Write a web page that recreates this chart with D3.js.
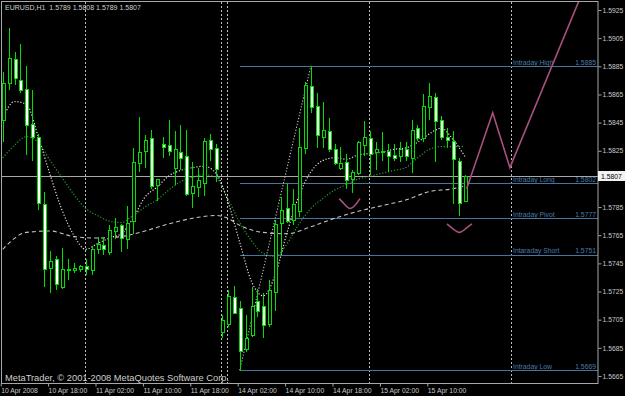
<!DOCTYPE html>
<html>
<head>
<meta charset="utf-8">
<script src="https://cdn.jsdelivr.net/npm/d3@7"></script>
<style>
body { margin: 0; background: #000; }
svg { display: block; }
text { font-family: "Liberation Sans", Arial, sans-serif; }
</style>
</head>
<body>
<script>
// EURUSD H1, bar 0 = 10 Apr 10:00 ... bar 78 = 15 Apr 16:00 (bars counted as on chart)
var opens = [1.5847, 1.5873, 1.5890, 1.5875, 1.5869, 1.5844, 1.5835, 1.5787, 1.5742, 1.5748,
	1.5728, 1.5740, 1.5740, 1.5741, 1.5743, 1.5740, 1.5755, 1.5758, 1.5753, 1.5768,
	1.5772, 1.5762, 1.5775, 1.5816, 1.5825, 1.5834, 1.5801, 1.5830, 1.5829, 1.5813,
	1.5824, 1.5821, 1.5795, 1.5799, 1.5802, 1.5833, 1.5827, 1.5696, 1.5702, 1.5721,
	1.5713, 1.5684, 1.5694, 1.5718, 1.5715, 1.5702, 1.5725, 1.5774, 1.5784, 1.5776,
	1.5782, 1.5827, 1.5871, 1.5857, 1.5835, 1.5839, 1.5826, 1.5813, 1.5817, 1.5805,
	1.5809, 1.5829, 1.5834, 1.5824, 1.5824, 1.5825, 1.5822, 1.5821, 1.5826, 1.5820,
	1.5841, 1.5834, 1.5856, 1.5863, 1.5847, 1.5835, 1.5832, 1.5818, 1.5789];
var highs = [1.5881, 1.5912, 1.5895, 1.5901, 1.5885, 1.5868, 1.5837, 1.5796, 1.5754, 1.5750,
	1.5756, 1.5748, 1.5745, 1.5744, 1.5748, 1.5757, 1.5764, 1.5764, 1.5772, 1.5777,
	1.5773, 1.5786, 1.5827, 1.5849, 1.5836, 1.5840, 1.5805, 1.5835, 1.5847, 1.5839,
	1.5843, 1.5840, 1.5817, 1.5813, 1.5834, 1.5837, 1.5830, 1.5708, 1.5726, 1.5729,
	1.5718, 1.5708, 1.5728, 1.5727, 1.5724, 1.5733, 1.5776, 1.5792, 1.5802, 1.5798,
	1.5841, 1.5874, 1.5885, 1.5866, 1.5860, 1.5848, 1.5830, 1.5828, 1.5823, 1.5811,
	1.5832, 1.5846, 1.5839, 1.5831, 1.5838, 1.5830, 1.5830, 1.5831, 1.5831, 1.5847,
	1.5843, 1.5865, 1.5873, 1.5866, 1.5850, 1.5841, 1.5839, 1.5820, 1.5808];
var lows = [1.5831, 1.5868, 1.5872, 1.5866, 1.5822, 1.5818, 1.5783, 1.5728, 1.5724, 1.5726,
	1.5727, 1.5733, 1.5738, 1.5739, 1.5737, 1.5737, 1.5752, 1.5751, 1.5751, 1.5762,
	1.5753, 1.5755, 1.5766, 1.5810, 1.5813, 1.5798, 1.5789, 1.5820, 1.5821, 1.5801,
	1.5811, 1.5793, 1.5784, 1.5792, 1.5793, 1.5818, 1.5803, 1.5692, 1.5700, 1.5710,
	1.5669, 1.5682, 1.5693, 1.5707, 1.5692, 1.5700, 1.5711, 1.5752, 1.5774, 1.5772,
	1.5778, 1.5823, 1.5852, 1.5827, 1.5827, 1.5824, 1.5815, 1.5811, 1.5798, 1.5795,
	1.5808, 1.5821, 1.5808, 1.5811, 1.5818, 1.5810, 1.5818, 1.5817, 1.5818, 1.5809,
	1.5832, 1.5831, 1.5847, 1.5817, 1.5833, 1.5827, 1.5787, 1.5779, 1.5789];
var closes = [1.5873, 1.5891, 1.5877, 1.5868, 1.5843, 1.5835, 1.5788, 1.5741, 1.5747, 1.5730,
	1.5741, 1.5741, 1.5742, 1.5743, 1.5741, 1.5755, 1.5759, 1.5755, 1.5769, 1.5771,
	1.5763, 1.5774, 1.5817, 1.5824, 1.5833, 1.5800, 1.5805, 1.5828, 1.5825, 1.5826,
	1.5820, 1.5794, 1.5800, 1.5804, 1.5832, 1.5826, 1.5812, 1.5705, 1.5722, 1.5710,
	1.5683, 1.5692, 1.5715, 1.5711, 1.5701, 1.5726, 1.5773, 1.5783, 1.5775, 1.5787,
	1.5828, 1.5872, 1.5856, 1.5836, 1.5840, 1.5826, 1.5816, 1.5816, 1.5804, 1.5810,
	1.5831, 1.5835, 1.5823, 1.5826, 1.5825, 1.5821, 1.5820, 1.5826, 1.5821, 1.5840,
	1.5834, 1.5857, 1.5864, 1.5846, 1.5835, 1.5833, 1.5819, 1.5788, 1.5807];

// moving averages at every other bar
var maBars = [0, 2, 4, 6, 8, 10, 12, 14, 16, 18, 20, 22, 24, 26, 28, 30, 32, 34, 36, 38,
	40, 42, 44, 46, 48, 50, 52, 54, 56, 58, 60, 62, 64, 66, 68, 70, 72, 74, 76, 78];
var maFast = [1.5848, 1.5860, 1.5858, 1.5835, 1.5808, 1.5783, 1.5765, 1.5755, 1.5759, 1.5763,
	1.5766, 1.5777, 1.5792, 1.5799, 1.5807, 1.5811, 1.5813, 1.5814, 1.5809, 1.5789,
	1.5760, 1.5732, 1.5722, 1.5737, 1.5767, 1.5793, 1.5810, 1.5818, 1.5820, 1.5819,
	1.5822, 1.5823, 1.5824, 1.5826, 1.5827, 1.5831, 1.5837, 1.5841, 1.5833, 1.5821];
var maMid = [1.5820, 1.5829, 1.5835, 1.5831, 1.5818, 1.5806, 1.5794, 1.5784, 1.5779, 1.5775,
	1.5774, 1.5779, 1.5785, 1.5790, 1.5797, 1.5803, 1.5806, 1.5808, 1.5806, 1.5791,
	1.5774, 1.5761, 1.5752, 1.5750, 1.5759, 1.5773, 1.5784, 1.5791, 1.5797, 1.5801,
	1.5805, 1.5807, 1.5809, 1.5811, 1.5813, 1.5820, 1.5826, 1.5828, 1.5828, 1.5828];
var maSlowBars = [0, 4, 8, 12, 16, 20, 24, 28, 32, 36, 38, 40, 44, 48, 52, 56, 60, 64, 68, 72, 76, 78];
var maSlow = [1.5755, 1.5767, 1.5768, 1.5764, 1.5763, 1.5764, 1.5768, 1.5773, 1.5777, 1.5779,
	1.5777, 1.5772, 1.5767, 1.5766, 1.5771, 1.5777, 1.5782, 1.5786, 1.5790, 1.5796, 1.5798, 1.5800];

// fibo object drawn from the low bar to the high bar
var fiboFrom = [40, 1.5669], fiboTo = [52, 1.5885];
var fiboNames = ["Intraday High", "Intraday Long", "Intraday Pivot", "Intaraday Short", "Intraday Low"];
var fiboValues = [1.5885, 1.5802, 1.5777, 1.5751, 1.5669];

// hand drawn forecast lines (bar, price)
var forecast = [[78.3, 1.5798], [82.7, 1.5852], [85.6, 1.5813], [97.5, 1.5934]];
var smileA = [[56.8, 1.5791], [57.8, 1.57865], [58.6, 1.5784], [59.5, 1.57865], [60.3, 1.5791]];
var smileB = [[75.0, 1.5773], [76.0, 1.57695], [77.1, 1.5767], [78.1, 1.57695], [79.2, 1.5773]];

var separatorBars = [14, 37, 38, 62, 86];
var xTickBars = [0, 8, 16, 24, 32, 40, 48, 56, 64, 72];
var xTickLabels = ["10 Apr 2008", "10 Apr 18:00", "11 Apr 02:00", "11 Apr 10:00", "11 Apr 18:00",
	"14 Apr 02:00", "14 Apr 10:00", "14 Apr 18:00", "15 Apr 02:00", "15 Apr 10:00"];
// 1.5805 sits under the bid label, so it is not shown
var yTickValues = [1.5665, 1.5685, 1.5705, 1.5725, 1.5745, 1.5765, 1.5785,
	1.5825, 1.5845, 1.5865, 1.5885, 1.5905, 1.5925];

var width = 625, height = 396;
var plot = { left : 2, right : 598, top : 2, bottom : 383 };

var x = d3.scaleLinear().domain([ -0.12, 100.47 ]).range([ plot.left, plot.right ]);
var y = d3.scaleLinear().domain([ 1.5660, 1.59307 ]).range([ plot.bottom, plot.top ]);

var svg = d3.select("body").append("svg").attr("width", width).attr("height", height);
svg.append("rect").attr("width", width).attr("height", height).attr("fill", "#000");

svg.append("clipPath").attr("id", "clip").append("rect")
	.attr("x", plot.left).attr("y", plot.top)
	.attr("width", plot.right - plot.left).attr("height", plot.bottom - plot.top);

var chart = svg.append("g").attr("clip-path", "url(#clip)");

// period separators
chart.selectAll(".sep").data(separatorBars).enter().append("line")
	.attr("x1", function(d) { return Math.round(x(d)) - 0.5; })
	.attr("x2", function(d) { return Math.round(x(d)) - 0.5; })
	.attr("y1", plot.top).attr("y2", plot.bottom)
	.attr("stroke", "#bdbdbd").attr("stroke-dasharray", "2,2");

// fibo levels
var levels = fiboNames.map(function(n, i) { return { name : n, value : fiboValues[i] }; });
var lvl = chart.selectAll(".lvl").data(levels).enter().append("g");
lvl.append("line")
	.attr("x1", Math.round(x(fiboFrom[0]))).attr("x2", plot.right)
	.attr("y1", function(d) { return Math.round(y(d.value)) + 0.5; })
	.attr("y2", function(d) { return Math.round(y(d.value)) + 0.5; })
	.attr("stroke", "#46759e");
lvl.append("text").attr("x", 513).attr("y", function(d) { return y(d.value) - 1.5; })
	.attr("font-size", 6.8).attr("fill", "#4a7cab").text(function(d) { return d.name; });
lvl.append("text").attr("x", 596).attr("y", function(d) { return y(d.value) - 1.5; })
	.attr("text-anchor", "end").attr("font-size", 6.8).attr("fill", "#4a7cab")
	.text(function(d) { return d.value.toFixed(4); });

// bid line
var last = closes.length - 1;
chart.append("line").attr("x1", plot.left).attr("x2", plot.right)
	.attr("y1", Math.round(y(closes[last])) + 0.5).attr("y2", Math.round(y(closes[last])) + 0.5)
	.attr("stroke", "#a8a8a8");

// moving averages
var maLine = d3.line().x(function(d) { return x(d[0]); }).y(function(d) { return y(d[1]); })
	.curve(d3.curveMonotoneX);
chart.append("path").datum(maSlowBars.map(function(b, i) { return [ b, maSlow[i] ]; }))
	.attr("d", maLine).attr("fill", "none").attr("stroke", "#c4c4c4")
	.attr("stroke-width", 1.1).attr("stroke-dasharray", "4,3");
chart.append("path").datum(maBars.map(function(b, i) { return [ b, maMid[i] ]; }))
	.attr("d", maLine).attr("fill", "none").attr("stroke", "#2a9a30")
	.attr("stroke-width", 1.2).attr("stroke-dasharray", "1.2,1.8");
chart.append("path").datum(maBars.map(function(b, i) { return [ b, maFast[i] ]; }))
	.attr("d", maLine).attr("fill", "none").attr("stroke", "#e2e2e2")
	.attr("stroke-width", 1.2).attr("stroke-dasharray", "1.2,1.8");

// fibo trend line
chart.append("line")
	.attr("x1", x(fiboFrom[0])).attr("y1", y(fiboFrom[1]))
	.attr("x2", x(fiboTo[0])).attr("y2", y(fiboTo[1]))
	.attr("stroke", "#c4c4c4").attr("stroke-width", 1.1).attr("stroke-dasharray", "1.2,1.8");

// candles
var bars = opens.map(function(o, i) {
	return { i : i, o : o, h : highs[i], l : lows[i], c : closes[i] };
});
var candle = chart.selectAll(".candle").data(bars).enter().append("g");
candle.append("line")
	.attr("x1", function(d) { return Math.round(x(d.i)) + 0.5; })
	.attr("x2", function(d) { return Math.round(x(d.i)) + 0.5; })
	.attr("y1", function(d) { return Math.round(y(d.h)); })
	.attr("y2", function(d) { return Math.round(y(d.l)); })
	.attr("stroke", "#00e000");
candle.append("rect")
	.attr("x", function(d) { return Math.round(x(d.i)) - 0.5; })
	.attr("width", 3)
	.attr("y", function(d) { return Math.round(y(Math.max(d.o, d.c))) + 0.5; })
	.attr("height", function(d) {
		return Math.max(1, Math.round(y(Math.min(d.o, d.c))) - Math.round(y(Math.max(d.o, d.c))));
	})
	.attr("fill", function(d) { return d.c >= d.o ? "#000" : "#fff"; })
	.attr("stroke", "#00e000");

// forecast drawing
var pinkLine = d3.line().x(function(d) { return x(d[0]); }).y(function(d) { return y(d[1]); });
chart.append("path").datum(forecast).attr("d", pinkLine)
	.attr("fill", "none").attr("stroke", "#a8507e").attr("stroke-width", 1.6);
[ smileA, smileB ].forEach(function(s) {
	chart.append("path").datum(s).attr("d", pinkLine.curve(d3.curveNatural))
		.attr("fill", "none").attr("stroke", "#a8507e").attr("stroke-width", 1.6);
});

// frame
svg.append("rect").attr("x", 1.5).attr("y", 1.5)
	.attr("width", plot.right - 1.5).attr("height", plot.bottom - 1)
	.attr("fill", "none").attr("stroke", "#a8a8a8");

// axes
var yAxis = d3.axisRight(y).tickValues(yTickValues).tickFormat(d3.format(".4f"))
	.tickSize(3).tickPadding(1);
var gy = svg.append("g").attr("transform", "translate(" + (plot.right + 0.5) + ",0)").call(yAxis);
gy.select(".domain").remove();
gy.selectAll("line").attr("stroke", "#a8a8a8");
gy.selectAll("text").attr("fill", "#c8c8c8").attr("font-size", 6.8)
	.attr("font-family", "Liberation Sans, Arial, sans-serif");

var xAxis = d3.axisBottom(x).tickValues(xTickBars)
	.tickFormat(function(d, i) { return xTickLabels[i]; }).tickSize(3).tickPadding(2);
var gx = svg.append("g").attr("transform", "translate(0," + (plot.bottom + 0.5) + ")").call(xAxis);
gx.select(".domain").remove();
gx.selectAll("line").attr("stroke", "#a8a8a8")
	.attr("transform", "translate(-2,0)");
gx.selectAll("text").attr("fill", "#c8c8c8").attr("font-size", 6.8)
	.attr("font-family", "Liberation Sans, Arial, sans-serif")
	.attr("text-anchor", "start").attr("x", -2);

// bid label
svg.append("rect").attr("x", plot.right).attr("y", Math.round(y(closes[last])) - 5)
	.attr("width", width - plot.right).attr("height", 10).attr("fill", "#f2f2f2");
svg.append("text").attr("x", plot.right + 3).attr("y", y(closes[last]) + 2.5)
	.attr("font-size", 6.8).attr("fill", "#000").text(closes[last].toFixed(4));

// header and copyright
svg.append("text").attr("x", 5).attr("y", 10).attr("font-size", 7).attr("fill", "#cfcfcf")
	.style("white-space", "pre")
	.text("EURUSD,H1  " + [ opens[last], highs[last], lows[last], closes[last] ].map(function(v) {
		return v.toFixed(4);
	}).join(" "));
svg.append("text").attr("x", 5).attr("y", 381).attr("font-size", 9.3).attr("fill", "#cfcfcf")
	.text("MetaTrader, \u00a9 2001-2008 MetaQuotes Software Corp.");
</script>
</body>
</html>
